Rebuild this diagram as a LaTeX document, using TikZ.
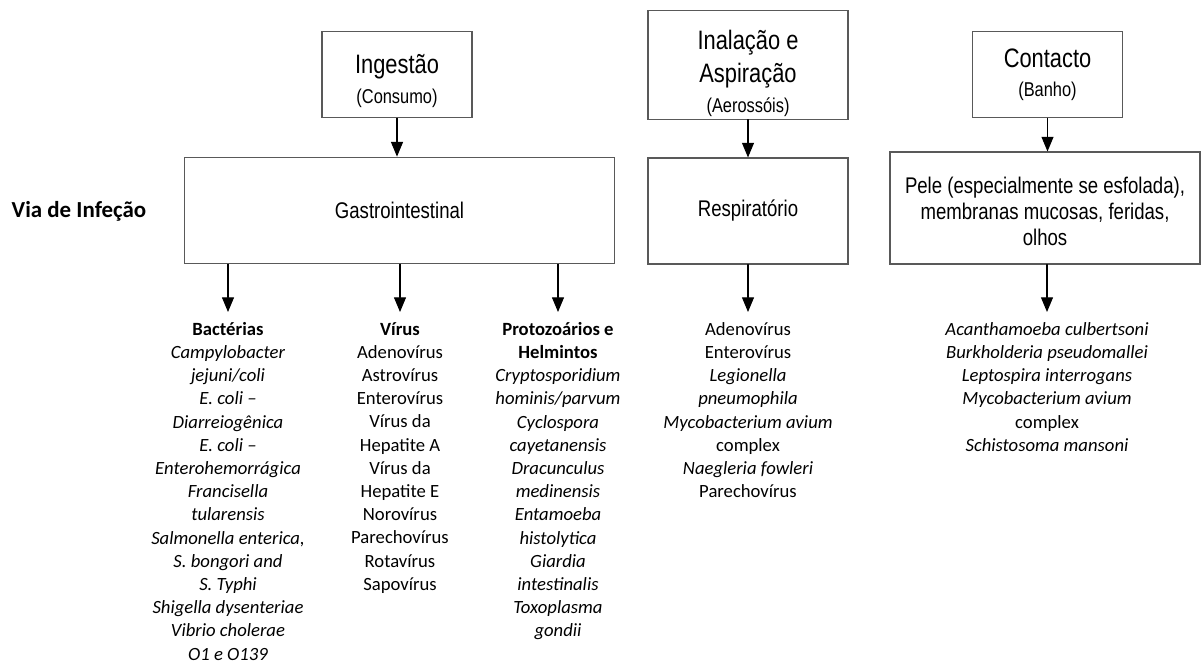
\documentclass[tikz,border=0pt]{standalone}
\usepackage{fontspec}
\setmainfont{Carlito}
\newfontfamily\boxfont{Liberation Sans}[FakeStretch=0.82]
\usetikzlibrary{arrows.meta,positioning}

\begin{document}
\begin{tikzpicture}[x=0.75pt,y=-0.75pt,line cap=round]

      \useasboundingbox (0,0) rectangle (1203,666);

      \tikzstyle{mybox}=[draw=black!65, line width=0.8pt, rectangle, inner sep=2pt, align=center, font=\boxfont\fontsize{17}{19.5}\selectfont];
      \tikzstyle{mytitle}=[mybox, font=\boxfont\fontsize{20}{25}\selectfont];
      \tikzstyle{mylist}=[anchor=north, inner sep=0pt, align=center, font=\fontsize{14}{17.4}\selectfont];
      \tikzstyle{myarrow}=[line width=0.8pt, -{Triangle[length=11pt,width=9pt]}];

      \coordinate (A) at (397,74.5);
      \coordinate (B) at (399.5,210.5);
      \coordinate (C) at (748,65);
      \coordinate (D) at (748,211);
      \coordinate (E) at (1047.5,74.5);
      \coordinate (F) at (1045,208);

      \node[mytitle, minimum width=112.5pt, minimum height=65pt] (ING) at (A)
        {\rule{0pt}{24pt}Ingestão\\[-3pt] {\fontsize{15}{18}\selectfont (Consumo)}};
      \node[mybox, minimum width=323pt, minimum height=80pt] (GAS) at (B) {Gastrointestinal};
      \node[mytitle, minimum width=150pt, minimum height=79.5pt] (INA) at (C)
        {\rule{0pt}{27pt}Inalação e\\ Aspiração\\[-3pt] {\fontsize{15}{18}\selectfont (Aerossóis)}};
      \node[mybox, minimum width=150pt, minimum height=79.5pt] (RES) at (D) {Respiratório};
      \node[mytitle, minimum width=113pt, minimum height=65pt] (CON) at (E)
        {Contacto\\[-3pt] {\fontsize{15}{18}\selectfont (Banho)}};
      \node[mybox, minimum width=232.5pt, minimum height=84pt] (PEL) at (F)
        {\rule{0pt}{18pt}Pele (especialmente se esfolada),\\ membranas mucosas, feridas,\\ olhos};

      \node[font=\bfseries\fontsize{17.2}{20}\selectfont, anchor=west] (VIA) at (7,211) {Via de Infeção};

      \node[mylist] (BAC) at (228,322)
        {\textbf{Bactérias}\\ \textit{Campylobacter}\\ \textit{jejuni/coli}\\ \textit{E. coli –}\\ \textit{Diarreiogênica}\\
         \textit{E. coli –}\\ \textit{Enterohemorrágica}\\ \textit{Francisella}\\ \textit{tularensis}\\
         \textit{Salmonella enterica,}\\ \textit{S. bongori and}\\ \textit{S. Typhi}\\ \textit{Shigella dysenteriae}\\
         \textit{Vibrio cholerae}\\ \textit{O1 e O139}};
      \node[mylist] (VIR) at (400,322)
        {\textbf{Vírus}\\ Adenovírus\\ Astrovírus\\ Enterovírus\\ Vírus da\\ Hepatite A\\ Vírus da\\ Hepatite E\\
         Norovírus\\ Parechovírus\\ Rotavírus\\ Sapovírus};
      \node[mylist] (PRO) at (558,322)
        {\textbf{Protozoários e}\\ \textbf{Helmintos}\\ \textit{Cryptosporidium}\\ \textit{hominis/parvum}\\ \textit{Cyclospora}\\
         \textit{cayetanensis}\\ \textit{Dracunculus}\\ \textit{medinensis}\\ \textit{Entamoeba}\\ \textit{histolytica}\\
         \textit{Giardia}\\ \textit{intestinalis}\\ \textit{Toxoplasma}\\ \textit{gondii}};
      \node[mylist] (LRE) at (748,322)
        {Adenovírus\\ Enterovírus\\ \textit{Legionella}\\ \textit{pneumophila}\\ \textit{Mycobacterium avium}\\ complex\\
         \textit{Naegleria fowleri}\\ Parechovírus};
      \node[mylist] (LCO) at (1047,322)
        {\textit{Acanthamoeba culbertsoni}\\ \textit{Burkholderia pseudomallei}\\ \textit{Leptospira interrogans}\\
         \textit{Mycobacterium avium}\\ complex\\ \textit{Schistosoma mansoni}};

      \draw[myarrow] (ING.south) -- (ING.south |- GAS.north);
      \draw[myarrow] (INA) -- (RES);
      \draw[myarrow] (CON.south) -- (CON.south |- PEL.north);
      \draw[myarrow] (GAS.south -| BAC) -- ([yshift=7.5pt]BAC.north);
      \draw[myarrow] (GAS.south -| VIR) -- ([yshift=7.5pt]VIR.north);
      \draw[myarrow] (GAS.south -| PRO) -- ([yshift=7.5pt]PRO.north);
      \draw[myarrow] (RES) -- ([yshift=7.5pt]LRE.north);
      \draw[myarrow] (PEL.south -| LCO) -- ([yshift=7.5pt]LCO.north);
    \end{tikzpicture}
\end{document}
